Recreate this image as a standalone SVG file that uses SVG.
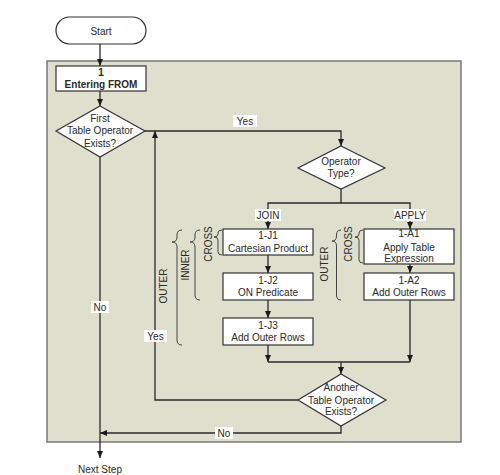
<svg xmlns="http://www.w3.org/2000/svg" width="500" height="475" viewBox="0 0 500 475">
<defs>
<marker id="ah" markerWidth="7" markerHeight="6" refX="7" refY="3" orient="auto" markerUnits="userSpaceOnUse">
<path d="M0,0 L7,3 L0,6 Z" fill="#1a1a1a"/>
</marker>
<style>
text{font-family:"Liberation Sans",Arial,sans-serif;font-size:10px;fill:#2a2a2a;text-anchor:middle}
.b{font-weight:bold}
.node{fill:#fff;stroke:#333;stroke-width:1.2}
.c{fill:none;stroke:#2a2a2a;stroke-width:1.3}
.br{fill:none;stroke:#444;stroke-width:1}
.lbg{fill:#fff}
</style>
</defs>
<rect width="500" height="475" fill="#fff"/>
<rect id="container" x="47" y="61" width="414" height="381" fill="#dee0cd" stroke="#7a7a7a" stroke-width="1.5"/>

<g id="connectors">
<path class="c" d="M100,44 V66" marker-end="url(#ah)"/>
<path class="c" d="M100,91 V106" marker-end="url(#ah)"/>
<path class="c" d="M145,131 H341 V146" marker-end="url(#ah)"/>
<path class="c" d="M100,157 V458" marker-end="url(#ah)"/>
<path class="c" d="M341,189 V203 H268 V229" marker-end="url(#ah)"/>
<path class="c" d="M341,203 H410 V229" marker-end="url(#ah)"/>
<path class="c" d="M268,255 V273" marker-end="url(#ah)"/>
<path class="c" d="M268,300 V318" marker-end="url(#ah)"/>
<path class="c" d="M410,264 V273" marker-end="url(#ah)"/>
<path class="c" d="M268,345 V362" marker-end="url(#ah)"/>
<path class="c" d="M410,300 V362" marker-end="url(#ah)"/>
<path class="c" d="M268,362 H410"/>
<path class="c" d="M341,362 V374" marker-end="url(#ah)"/>
<path class="c" d="M298,400 H155 V131" marker-end="url(#ah)"/>
<path class="c" d="M341,426 V433 H100" marker-end="url(#ah)"/>
</g>

<g id="labels">
<rect class="lbg" x="233" y="115" width="24" height="12"/>
<text x="245" y="124.5">Yes</text>
<rect class="lbg" x="255" y="209" width="26" height="12"/>
<text x="268" y="218.5">JOIN</text>
<rect class="lbg" x="394" y="209" width="32" height="12"/>
<text x="410" y="218.5">APPLY</text>
<rect class="lbg" x="91" y="301" width="18" height="12"/>
<text x="100" y="310.5">No</text>
<rect class="lbg" x="144" y="330" width="23" height="12"/>
<text x="155.5" y="339.5">Yes</text>
<rect class="lbg" x="215" y="427" width="18" height="12"/>
<text x="224" y="436.5">No</text>
<text x="100" y="473">Next Step</text>
</g>

<g id="start">
<rect class="node" x="56" y="17" width="90" height="27" rx="13.5"/>
<text x="101" y="34.5">Start</text>
</g>

<g id="entering-from">
<rect class="node" x="56" y="66" width="90" height="25"/>
<text class="b" x="101" y="75.5">1</text>
<text class="b" x="101" y="88">Entering FROM</text>
</g>

<g id="first-table-operator">
<polygon class="node" points="100,106 145,131 100,157 56,131"/>
<text x="100" y="121.5">First</text>
<text x="100" y="134">Table Operator</text>
<text x="100" y="146.5">Exists?</text>
</g>

<g id="operator-type">
<polygon class="node" points="341,146 385,168 341,189 298,168"/>
<text x="341" y="164.5">Operator</text>
<text x="341" y="176.5">Type?</text>
</g>

<g id="j1">
<rect class="node" x="223" y="229" width="90" height="26"/>
<text x="268" y="238.5">1-J1</text>
<text x="268" y="252">Cartesian Product</text>
</g>
<g id="j2">
<rect class="node" x="223" y="273" width="90" height="27"/>
<text x="268" y="283.5">1-J2</text>
<text x="268" y="295.5">ON Predicate</text>
</g>
<g id="j3">
<rect class="node" x="223" y="318" width="90" height="27"/>
<text x="268" y="328.5">1-J3</text>
<text x="268" y="340.5">Add Outer Rows</text>
</g>
<g id="a1">
<rect class="node" x="364" y="229" width="90" height="35"/>
<text x="409" y="236.5">1-A1</text>
<text x="409" y="250.5">Apply Table</text>
<text x="409" y="262">Expression</text>
</g>
<g id="a2">
<rect class="node" x="364" y="273" width="90" height="27"/>
<text x="409" y="283.5">1-A2</text>
<text x="409" y="295.5">Add Outer Rows</text>
</g>

<g id="another-table-operator">
<polygon class="node" points="341,374 386,400 341,426 298,400"/>
<text x="341" y="390.5">Another</text>
<text x="341" y="403.5">Table Operator</text>
<text x="341" y="414.5">Exists?</text>
</g>

<g id="braces">
<path class="br" d="M182,230 Q177,230 177,235 V237 Q177,242 172,242 Q177,242 177,247 V340 Q177,345 182,345"/>
<path class="br" d="M200,230 Q195,230 195,235 V237 Q195,242 190,242 Q195,242 195,247 V295 Q195,300 200,300"/>
<path class="br" d="M222,230 Q218,230 218,233 V234 Q218,237 214,237 Q218,237 218,240 V252 Q218,255 222,255"/>
<path class="br" d="M341,230 Q336.5,230 336.5,235 V236 Q336.5,241 332,241 Q336.5,241 336.5,246 V295 Q336.5,300 341,300"/>
<path class="br" d="M363,230 Q359,230 359,233 V234 Q359,237 355,237 Q359,237 359,240 V260 Q359,263 363,263"/>
<text transform="translate(166.5,286) rotate(-90)">OUTER</text>
<text transform="translate(188.5,265) rotate(-90)">INNER</text>
<text transform="translate(211.5,244) rotate(-90)">CROSS</text>
<text transform="translate(328,264) rotate(-90)">OUTER</text>
<text transform="translate(351.5,244) rotate(-90)">CROSS</text>
</g>
</svg>
